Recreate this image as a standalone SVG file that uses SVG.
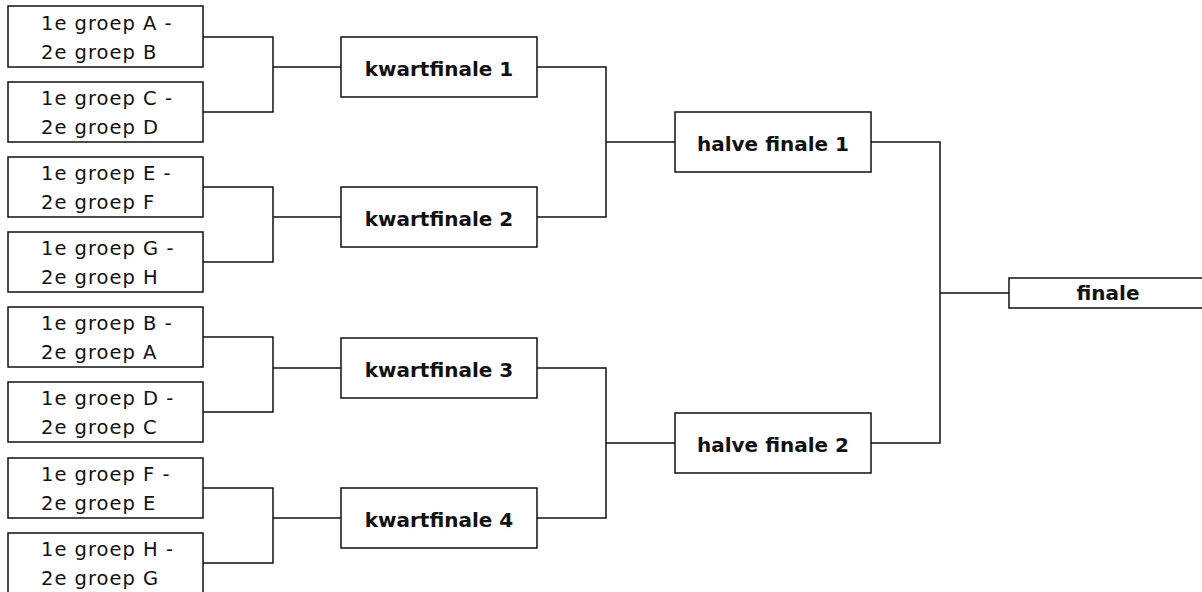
<svg xmlns="http://www.w3.org/2000/svg" width="1202" height="592" viewBox="0 0 1202 592">
<style>
.box{fill:#fff;stroke:#111;stroke-width:1.5}
.ln{fill:none;stroke:#111;stroke-width:1.5}
.g{font-family:"DejaVu Sans",Verdana,sans-serif;font-size:19.5px;fill:#111;letter-spacing:1px}
.b{font-family:"DejaVu Sans",Verdana,sans-serif;font-size:20px;font-weight:bold;fill:#111;text-anchor:middle}
</style>
<rect width="1202" height="592" fill="#fff"/>
<g id="connectors">
<path class="ln" d="M203,37H273V112H203M273,67H341"/>
<path class="ln" d="M203,187H273V262H203M273,217H341"/>
<path class="ln" d="M203,337H273V412H203M273,368H341"/>
<path class="ln" d="M203,488H273V563H203M273,518H341"/>
<path class="ln" d="M537,67H606V217H537M606,142H675"/>
<path class="ln" d="M537,368H606V518H537M606,443H675"/>
<path class="ln" d="M871,142H940V443H871M940,293H1009"/>
</g>
<g id="g1"><rect class="box" x="8" y="6" width="195" height="61"/><text class="g" x="41" y="30">1e groep A -</text><text class="g" x="41" y="59">2e groep B</text></g>
<g id="g2"><rect class="box" x="8" y="82" width="195" height="60"/><text class="g" x="41" y="105">1e groep C -</text><text class="g" x="41" y="134">2e groep D</text></g>
<g id="g3"><rect class="box" x="8" y="157" width="195" height="60"/><text class="g" x="41" y="180">1e groep E -</text><text class="g" x="41" y="209">2e groep F</text></g>
<g id="g4"><rect class="box" x="8" y="232" width="195" height="60"/><text class="g" x="41" y="255">1e groep G -</text><text class="g" x="41" y="284">2e groep H</text></g>
<g id="g5"><rect class="box" x="8" y="307" width="195" height="60"/><text class="g" x="41" y="330">1e groep B -</text><text class="g" x="41" y="359">2e groep A</text></g>
<g id="g6"><rect class="box" x="8" y="382" width="195" height="60"/><text class="g" x="41" y="405">1e groep D -</text><text class="g" x="41" y="434">2e groep C</text></g>
<g id="g7"><rect class="box" x="8" y="458" width="195" height="60"/><text class="g" x="41" y="481">1e groep F -</text><text class="g" x="41" y="510">2e groep E</text></g>
<g id="g8"><rect class="box" x="8" y="533" width="195" height="61"/><text class="g" x="41" y="556">1e groep H -</text><text class="g" x="41" y="585">2e groep G</text></g>
<g id="qf1"><rect class="box" x="341" y="37" width="196" height="60"/><text class="b" x="439" y="76">kwartfinale 1</text></g>
<g id="qf2"><rect class="box" x="341" y="187" width="196" height="60"/><text class="b" x="439" y="226">kwartfinale 2</text></g>
<g id="qf3"><rect class="box" x="341" y="338" width="196" height="60"/><text class="b" x="439" y="377">kwartfinale 3</text></g>
<g id="qf4"><rect class="box" x="341" y="488" width="196" height="60"/><text class="b" x="439" y="527">kwartfinale 4</text></g>
<g id="hf1"><rect class="box" x="675" y="112" width="196" height="60"/><text class="b" x="773" y="151">halve finale 1</text></g>
<g id="hf2"><rect class="box" x="675" y="413" width="196" height="60"/><text class="b" x="773" y="452">halve finale 2</text></g>
<g id="finale"><rect class="box" x="1009" y="278" width="196" height="30"/><text class="b" x="1108" y="300">finale</text></g>
</svg>
